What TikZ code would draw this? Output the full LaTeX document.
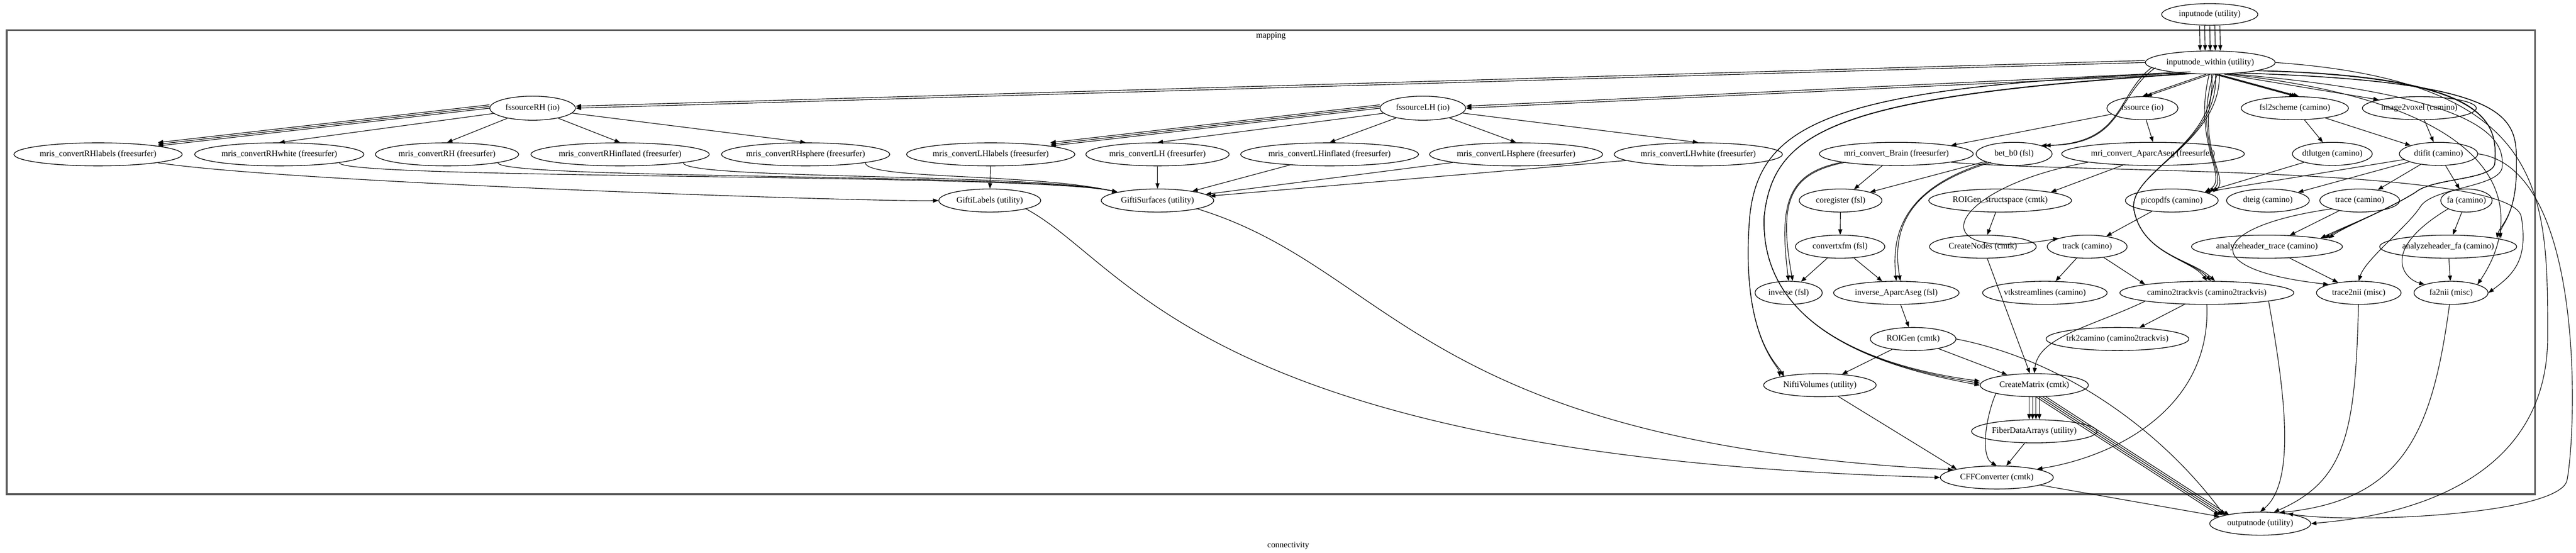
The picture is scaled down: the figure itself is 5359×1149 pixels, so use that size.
\documentclass[tikz,border=0pt]{standalone}
\usepackage{fontspec}
\setmainfont{Liberation Serif}
\usetikzlibrary{shapes.geometric, arrows.meta}
\newcommand{\nm}[1]{\makebox[0pt]{#1}}

\begin{document}
\begin{tikzpicture}[x=0.1mm, y=-0.1mm,
        proc/.style={ellipse, draw, line width=0.4pt, inner sep=0pt, minimum height=4.8mm, font=\fontsize{5}{6}\selectfont},
        edge/.style={-{Triangle[length=3.2pt, width=2.4pt]}, line width=0.35pt},
        frame/.style={draw=black!65, line width=1pt},
        caption/.style={font=\fontsize{5}{6}\selectfont}
    ]
    \useasboundingbox (0,0) rectangle (5359,1149);
    % cluster
    \draw[frame] (14,63) rectangle (5274,1028);
    \node[caption] (mapping) at (2644,75) {mapping};
    \node[caption] (connectivity) at (2680,1135) {connectivity};

    % top
    \node[proc, minimum width=20mm, minimum height=4.5mm] (inputnode) at (4597,30) {\nm{inputnode (utility)}};
    \node[proc, minimum width=27mm] (within) at (4598,130) {\nm{inputnode\_within (utility)}};
    \node[proc, minimum width=17.8mm, minimum height=5mm] (fssourceRH) at (1108,225) {\nm{fssourceRH (io)}};
    \node[proc, minimum width=17.8mm, minimum height=5mm] (fssourceLH) at (2960,225) {\nm{fssourceLH (io)}};
    \node[proc, minimum width=14.8mm] (fssource) at (4457,225) {\nm{fssource (io)}};
    \node[proc, minimum width=22.3mm] (fsl2scheme) at (4774,225) {\nm{fsl2scheme (camino)}};
    \node[proc, minimum width=23.7mm] (image2voxel) at (5033,225) {\nm{image2voxel (camino)}};

    % surfaces
    \node[proc, minimum width=35mm] (RHlabels) at (204,321) {\nm{mris\_convertRHlabels (freesurfer)}};
    \node[proc, minimum width=35.2mm] (RHwhite) at (581,321) {\nm{mris\_convertRHwhite (freesurfer)}};
    \node[proc, minimum width=29.8mm] (RHplain) at (930,321) {\nm{mris\_convertRH (freesurfer)}};
    \node[proc, minimum width=37.1mm] (RHinflated) at (1290,321) {\nm{mris\_convertRHinflated (freesurfer)}};
    \node[proc, minimum width=35mm] (RHsphere) at (1676,321) {\nm{mris\_convertRHsphere (freesurfer)}};
    \node[proc, minimum width=35mm] (LHlabels) at (2061,321) {\nm{mris\_convertLHlabels (freesurfer)}};
    \node[proc, minimum width=29.8mm] (LHplain) at (2408,321) {\nm{mris\_convertLH (freesurfer)}};
    \node[proc, minimum width=37mm] (LHinflated) at (2766,321) {\nm{mris\_convertLHinflated (freesurfer)}};
    \node[proc, minimum width=36mm] (LHsphere) at (3154,321) {\nm{mris\_convertLHsphere (freesurfer)}};
    \node[proc, minimum width=35mm] (LHwhite) at (3533,321) {\nm{mris\_convertLHwhite (freesurfer)}};
    \node[proc, minimum width=21.2mm] (giftiLabels) at (2059,417) {\nm{GiftiLabels (utility)}};
    \node[proc, minimum width=23.4mm] (giftiSurfaces) at (2408,417) {\nm{GiftiSurfaces (utility)}};

    % volumes and diffusion
    \node[proc, minimum width=32mm] (convBrain) at (3945,320) {\nm{mri\_convert\_Brain (freesurfer)}};
    \node[proc, minimum width=15.8mm] (betb0) at (4190,320) {\nm{bet\_b0 (fsl)}};
    \node[proc, minimum width=38mm] (convAparc) at (4479,320) {\nm{mri\_convert\_AparcAseg (freesurfer)}};
    \node[proc, minimum width=16.6mm] (dtlutgen) at (4852,320) {\nm{dtlutgen (camino)}};
    \node[proc, minimum width=16.3mm] (dtifit) at (5073,320) {\nm{dtifit (camino)}};
    \node[proc, minimum width=17.2mm] (coregister) at (3829,417) {\nm{coregister (fsl)}};
    \node[proc, minimum width=29.7mm] (roiStruct) at (4161,417) {\nm{ROIGen\_structspace (cmtk)}};
    \node[proc, minimum width=19.3mm] (picopdfs) at (4518,417) {\nm{picopdfs (camino)}};
    \node[proc, minimum width=17.2mm] (dteig) at (4718,417) {\nm{dteig (camino)}};
    \node[proc, minimum width=16.6mm] (trace) at (4909,417) {\nm{trace (camino)}};
    \node[proc, minimum width=10.7mm] (fa) at (5131,417) {\nm{fa (camino)}};
    \node[proc, minimum width=18.6mm] (convertxfm) at (3828,513) {\nm{convertxfm (fsl)}};
    \node[proc, minimum width=22.2mm] (createNodes) at (4125,513) {\nm{CreateNodes (cmtk)}};
    \node[proc, minimum width=16.6mm] (track) at (4342,513) {\nm{track (camino)}};
    \node[proc, minimum width=31.4mm] (headerTrace) at (4716,513) {\nm{analyzeheader\_trace (camino)}};
    \node[proc, minimum width=28.5mm] (headerFa) at (5093,513) {\nm{analyzeheader\_fa (camino)}};
    \node[proc, minimum width=14mm] (inverse) at (3721,609) {\nm{inverse (fsl)}};
    \node[proc, minimum width=26.1mm] (inverseAparc) at (3945,609) {\nm{inverse\_AparcAseg (fsl)}};
    \node[proc, minimum width=25.9mm] (vtkstreamlines) at (4254,609) {\nm{vtkstreamlines (camino)}};
    \node[proc, minimum width=36.2mm] (camino2trackvis) at (4591,609) {\nm{camino2trackvis (camino2trackvis)}};
    \node[proc, minimum width=17.6mm] (trace2nii) at (4907,609) {\nm{trace2nii (misc)}};
    \node[proc, minimum width=15.4mm] (fa2nii) at (5099,609) {\nm{fa2nii (misc)}};
    \node[proc, minimum width=17.8mm] (roiGen) at (3980,705) {\nm{ROIGen (cmtk)}};
    \node[proc, minimum width=29.7mm] (trk2camino) at (4405,705) {\nm{trk2camino (camino2trackvis)}};
    \node[proc, minimum width=23.4mm] (niftiVolumes) at (3786,801) {\nm{NiftiVolumes (utility)}};
    \node[proc, minimum width=22.5mm] (createMatrix) at (4232,801) {\nm{CreateMatrix (cmtk)}};
    \node[proc, minimum width=26.1mm] (fiberData) at (4232,897) {\nm{FiberDataArrays (utility)}};
    \node[proc, minimum width=23.5mm] (cffConverter) at (4154,993) {\nm{CFFConverter (cmtk)}};
    \node[proc, minimum width=21mm] (outputnode) at (4702,1089) {\nm{outputnode (utility)}};

    % inputs
    \foreach \s in {-6,-3,0,3,6}
        \draw[edge] ([xshift=\s pt]inputnode.south) -- ([xshift=\s pt]within.north);
    \foreach \s in {0,1.2} {
        \draw[edge] ([yshift=\s pt]within.west) -- ([yshift=\s pt]fssourceRH.east);
        \draw[edge] ([yshift=\s pt]within.210) -- ([yshift=\s pt]fssourceLH.east);
        \draw[edge] ([xshift=\s*2 pt]within.250) -- ([xshift=\s*2 pt]fssource.north);
        \draw[edge] ([xshift=\s*2 pt]within.185) .. controls (4400,200) and (4420,300) .. ([xshift=\s*2 pt]betb0.north east);
        \draw[edge] ([xshift=\s*2 pt]within.200) .. controls (3800,180) and (3660,260) .. (3640,450) .. controls (3620,700) and (3700,760) .. ([xshift=\s*2 pt]niftiVolumes.north west);
        \draw[edge] ([xshift=\s*2 pt]convBrain.south west) .. controls (3720,360) and (3700,420) .. ([xshift=\s*2 pt]inverse.north);
        \draw[edge] ([xshift=\s*2 pt]betb0.south west) .. controls (4000,380) and (3930,450) .. ([xshift=\s*2 pt]inverseAparc.north);
        \draw[edge] ([xshift=\s*2 pt]within.-20) .. controls (5250,170) and (5235,250) .. (5235,350) .. controls (5235,450) and (5200,470) .. ([xshift=\s*2 pt]headerFa.north east);
    }
    \foreach \s in {0,1.2,2.4} {
        \draw[edge] ([xshift=\s pt]within.290) -- ([xshift=\s pt]fsl2scheme.north);
        \draw[edge] ([xshift=\s*2 pt]within.205) .. controls (3820,200) and (3690,270) .. (3670,450) .. controls (3660,700) and (3950,770) .. ([yshift=\s pt]createMatrix.west);
        \draw[edge] ([xshift=\s*2 pt]within.265) .. controls (4560,300) and (4640,370) .. ([xshift=\s*2 pt]picopdfs.north east);
        \draw[edge] ([xshift=\s*2 pt]within.275) .. controls (4620,300) and (4420,360) .. (4440,440) .. controls (4460,530) and (4560,540) .. ([xshift=\s*2 pt]camino2trackvis.north);
        \draw[edge] ([xshift=\s*2 pt]within.-10) .. controls (5190,160) and (5195,260) .. (5190,340) .. controls (5185,375) and (5060,370) .. (5025,400) .. controls (4960,440) and (4880,470) .. ([xshift=\s*2 pt]headerTrace.north east);
    }
    \draw[edge] (within.320) -- (image2voxel.north west);
    \draw[edge] (within.-30) .. controls (5200,200) and (5210,300) .. (5205,350) .. controls (5195,390) and (5060,390) .. (5035,430) .. controls (5010,470) and (4920,540) .. (trace2nii.north);
    \draw[edge] (within.-35) .. controls (5250,220) and (5250,450) .. (fa2nii.north east);
    \draw[edge] (within.east) .. controls (5300,170) and (5300,400) .. (5300,700) .. controls (5300,1050) and (4900,1080) .. (outputnode.east);

    % surfaces
    \foreach \s in {0,1,2} {
        \draw[edge] ([yshift=\s pt]fssourceRH.west) -- ([yshift=\s pt]RHlabels.north east);
        \draw[edge] ([yshift=\s pt]fssourceLH.west) -- ([yshift=\s pt]LHlabels.north east);
    }
    \foreach \n in {RHwhite, RHplain, RHinflated, RHsphere}
        \draw[edge] (fssourceRH) -- (\n.north);
    \foreach \n in {LHplain, LHinflated, LHsphere, LHwhite}
        \draw[edge] (fssourceLH) -- (\n.north);
    \draw[edge] (RHlabels.south east) .. controls (600,380) and (1800,420) .. (giftiLabels.west);
    \foreach \n in {RHwhite, RHplain, RHinflated, RHsphere}
        \draw[edge] (\n.south east) .. controls ([yshift=-10pt]\n.south east) and (2150,360) .. (giftiSurfaces.north west);
    \draw[edge] (LHlabels) -- (giftiLabels);
    \foreach \n in {LHplain, LHinflated, LHsphere, LHwhite}
        \draw[edge] (\n) -- (giftiSurfaces);
    \draw[edge] (giftiLabels.south east) .. controls (2350,550) and (2500,950) .. (cffConverter.west);
    \draw[edge] (giftiSurfaces.south east) .. controls (2900,560) and (2950,920) .. (cffConverter.170);

    % volumes
    \draw[edge] (fssource) -- (convBrain.north east);
    \draw[edge] (fssource) -- (convAparc.north);
    \draw[edge] (convBrain) -- (coregister);
    \draw[edge] (betb0) -- (coregister.north east);
    \draw[edge] (convBrain.south east) .. controls (4300,360) and (5220,345) .. (5245,450) .. controls (5260,540) and (5230,570) .. (fa2nii.east);
    \draw[edge] (convAparc) -- (roiStruct.north east);
    \draw[edge] (convAparc.south west) .. controls (4050,390) and (3980,550) .. (track.north west);
    \draw[edge] (coregister) -- (convertxfm);
    \draw[edge] (convertxfm) -- (inverse);
    \draw[edge] (convertxfm) -- (inverseAparc);
    \draw[edge] (inverseAparc) -- (roiGen);
    \draw[edge] (roiStruct) -- (createNodes);
    \draw[edge] (roiGen) -- (niftiVolumes);
    \draw[edge] (roiGen) -- (createMatrix);
    \draw[edge] (roiGen.east) .. controls (4300,750) and (4500,900) .. (outputnode.north west);
    \draw[edge] (createNodes) -- (createMatrix);

    % diffusion
    \draw[edge] (fsl2scheme) -- (dtlutgen);
    \draw[edge] (fsl2scheme) -- (dtifit.north west);
    \draw[edge] (image2voxel) -- (dtifit);
    \draw[edge] (dtlutgen) -- (picopdfs.north east);
    \draw[edge] (dtifit) -- (picopdfs.north east);
    \draw[edge] (dtifit) -- (dteig);
    \draw[edge] (dtifit) -- (trace);
    \draw[edge] (dtifit) -- (fa);
    \draw[edge] (dtifit.east) .. controls (5380,350) and (5360,900) .. (5340,1000) .. controls (5320,1070) and (4900,1090) .. (outputnode.20);
    \draw[edge] (picopdfs) -- (track);
    \draw[edge] (trace) -- (headerTrace);
    \draw[edge] (trace.south west) .. controls (4600,470) and (4560,560) .. (trace2nii.north west);
    \draw[edge] (fa) -- (headerFa);
    \draw[edge] (fa.south west) .. controls (4950,520) and (5000,580) .. (fa2nii.north west);
    \draw[edge] (headerTrace) -- (trace2nii);
    \draw[edge] (headerFa) -- (fa2nii);
    \draw[edge] (track) -- (vtkstreamlines);
    \draw[edge] (track) -- (camino2trackvis.north west);
    \draw[edge] (camino2trackvis) -- (trk2camino);
    \draw[edge] (camino2trackvis.south west) .. controls (4350,680) and (4240,700) .. (createMatrix.north);
    \draw[edge] (camino2trackvis.south) .. controls (4600,850) and (4400,950) .. (cffConverter.north east);
    \draw[edge] (camino2trackvis.south east) .. controls (4750,800) and (4780,1000) .. (outputnode.north);
    \draw[edge] (trace2nii) .. controls (4900,900) and (4880,1000) .. (outputnode.40);
    \draw[edge] (fa2nii) .. controls (5060,900) and (5000,1040) .. (outputnode.30);

    % outputs
    \foreach \s in {-3,-1,1,3} {
        \draw[edge] ([xshift=\s pt]createMatrix.south) -- ([xshift=\s pt]fiberData.north);
        \draw[edge] ([xshift=\s pt]createMatrix.-60) -- ([xshift=\s pt]outputnode.north west);
    }
    \draw[edge] (createMatrix.south west) .. controls (4130,870) and (4120,950) .. (cffConverter.north);
    \draw[edge] (fiberData) -- (cffConverter);
    \draw[edge] (niftiVolumes) -- (cffConverter.north west);
    \draw[edge] (cffConverter) -- (outputnode);
\end{tikzpicture}
\end{document}
